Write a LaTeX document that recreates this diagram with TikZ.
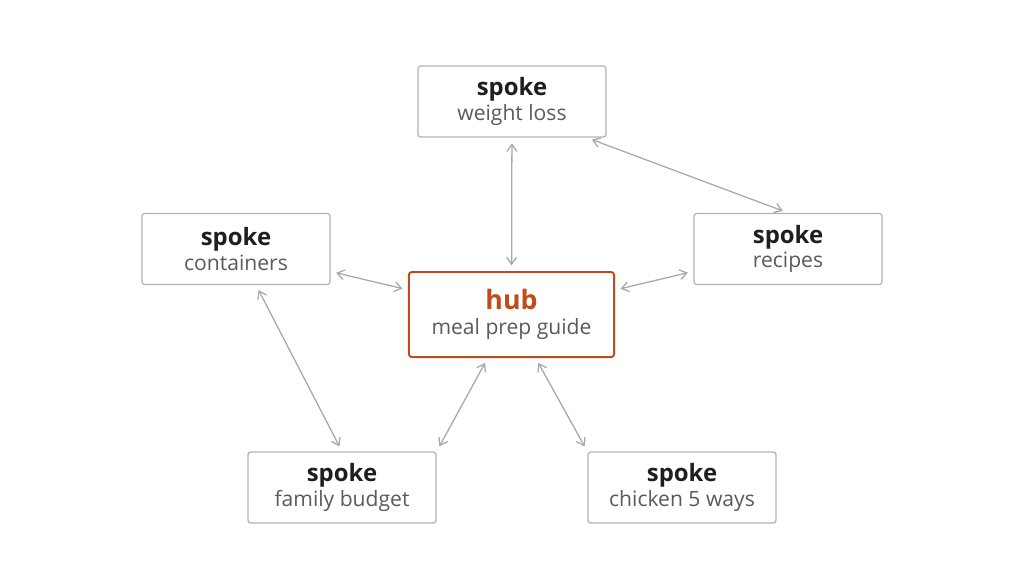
\documentclass[tikz,border=0pt]{standalone}
\usepackage{fontspec}
\setmainfont{Open Sans}
\usetikzlibrary{arrows.meta, positioning}
\definecolor{hubred}{HTML}{C04A1C}
\definecolor{boxgray}{HTML}{B4B4B8}
\definecolor{textgray}{HTML}{5A5A5E}
\definecolor{textdark}{HTML}{1E1E22}
\definecolor{linkgray}{HTML}{A8A8AC}
\newcommand{\spokelabel}[1]{{\fontsize{17}{22}\selectfont\bfseries\color{textdark}spoke}\\[1pt]{\fontsize{15}{20}\selectfont\color{textgray}#1}}

\begin{document}
\begin{tikzpicture}[
    x=0.025cm, y=-0.025cm,
    spoke/.style={rectangle, rounded corners=2pt, draw=boxgray, line width=0.9pt, fill=white, minimum width=4.7cm, minimum height=1.775cm, align=center, inner sep=2pt},
    hub/.style={rectangle, rounded corners=2pt, draw=hubred, line width=1.4pt, fill=white, minimum width=5.125cm, minimum height=2.125cm, align=center},
    link/.style={{Straight Barb[length=5pt,width=7pt]}-{Straight Barb[length=5pt,width=7pt]}, linkgray, line width=0.9pt, shorten <=4pt, shorten >=4pt}
]
\useasboundingbox (0,0) rectangle (1024,580);

% Hub
\node[hub] (hub) at (511.5,314.5) {{\fontsize{19}{24}\selectfont\bfseries\color{hubred}hub}\\[6pt]{\fontsize{15}{20}\selectfont\color{textgray}meal prep guide}};

% Spokes
\node[spoke] (weight) at (512,101.5) {\spokelabel{weight loss}};
\node[spoke] (containers) at (236,249) {\spokelabel{containers}};
\node[spoke] (recipes) at (788,249) {\spokelabel{recipes}};
\node[spoke] (family) at (342,487.5) {\spokelabel{family budget}};
\node[spoke] (chicken) at (682,487.5) {\spokelabel{chicken 5 ways}};

% Links
\draw[link] (weight) -- (hub);
\draw[link] (weight.south east) ++(-20,0) coordinate (wse) -- (recipes.north);
\draw[link] (containers) -- (hub);
\draw[link] (recipes) -- (hub);
\draw[link] (containers.south) ++(20,0) coordinate (cs) -- (family.north);
\draw[link] (hub) -- (family.north east);
\draw[link] (hub) -- (chicken.north west);

\end{tikzpicture}
\end{document}
